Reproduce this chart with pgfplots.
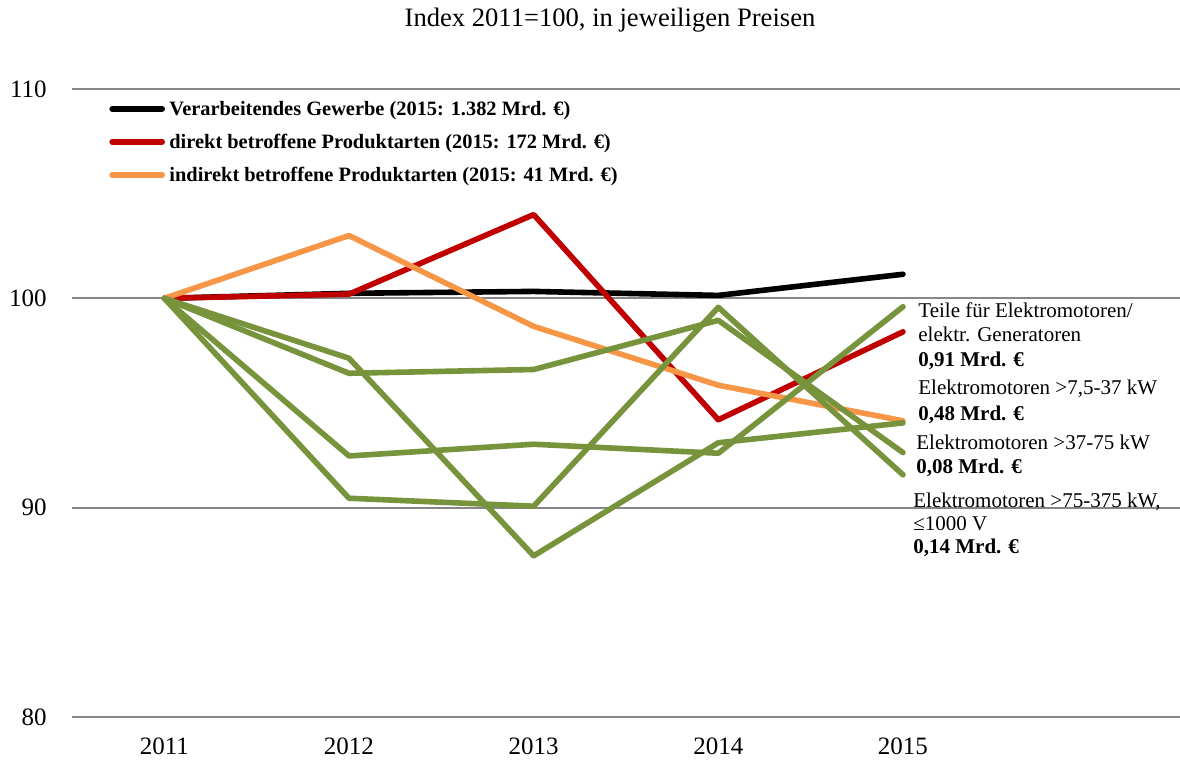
\documentclass[border=0pt]{standalone}
\usepackage{pgfplots}
\pgfplotsset{compat=1.18}
\usepackage{fontspec}
\setmainfont{Liberation Serif}
\definecolor{cblack}{HTML}{000000}
\definecolor{cred}{HTML}{C00000}
\definecolor{corange}{HTML}{F79646}
\definecolor{cgreen}{HTML}{77933C}
\definecolor{cgrid}{HTML}{868686}
\begin{document}
\begin{tikzpicture}
\useasboundingbox (0,0) rectangle (590pt,381pt);
\begin{axis}[
  at={(36pt,22.5pt)}, anchor=south west,
  width=554pt, height=314pt, scale only axis,
  xmin=2010.5, xmax=2016.5, ymin=80, ymax=110,
  xtick={2011,2012,2013,2014,2015},
  xticklabels={2011,2012,2013,2014,2015},
  ytick={80,90,100,110},
  yticklabels={80,90,100,110},
  axis line style={draw=none}, major tick length=0pt,
  ymajorgrids, grid style={cgrid, line width=1pt},
  /pgf/number format/assume math mode=true,
  xticklabel style={font=\fontsize{12.5}{14}\selectfont, inner sep=0pt, yshift=-10pt},
  yticklabel style={font=\fontsize{12.5}{14}\selectfont, inner sep=0pt, xshift=-12.5pt},
  clip=false,
  every axis plot/.append style={line width=2.8pt, line join=round, line cap=round},
  legend image code/.code={\draw[#1, line width=2.8pt, line cap=round] (0pt,0.8pt) -- (25pt,0.8pt);},
  legend cell align=left,
  legend style={at={(axis description cs:0,1)}, anchor=north west, xshift=18.5pt, yshift=-5.5pt,
    draw=none, fill=none, inner sep=0pt, row sep=6.5pt, column sep=2.2pt,
    font=\fontsize{10.2}{12}\selectfont\bfseries,
    nodes={inner sep=0pt, text height=7.5pt, text depth=2.5pt}},
]
\addplot[cblack] coordinates {(2011,100) (2012,100.24) (2013,100.33) (2014,100.14) (2015,101.15)};
\addlegendentry{Verarbeitendes Gewerbe (2015: 1.382 Mrd. €)}
\addplot[cred] coordinates {(2011,100) (2012,100.2) (2013,104.0) (2014,94.2) (2015,98.4)};
\addlegendentry{direkt betroffene Produktarten (2015: 172 Mrd. €)}
\addplot[corange] coordinates {(2011,100) (2012,103.0) (2013,98.66) (2014,95.85) (2015,94.15)};
\addlegendentry{indirekt betroffene Produktarten (2015: 41 Mrd. €)}
\addplot[cgreen, forget plot] coordinates {(2011,100) (2012,97.14) (2013,87.7) (2014,93.1) (2015,94.05)};
\addplot[cgreen, forget plot] coordinates {(2011,100) (2012,92.47) (2013,93.03) (2014,92.6) (2015,99.6)};
\addplot[cgreen, forget plot] coordinates {(2011,100) (2012,96.42) (2013,96.6) (2014,98.95) (2015,92.63)};
\addplot[cgreen, forget plot] coordinates {(2011,100) (2012,90.45) (2013,90.07) (2014,99.57) (2015,91.57)};
\end{axis}
\node[anchor=base, font=\fontsize{13.3}{16}\selectfont, inner sep=0pt] at (305pt,367.5pt) {Index 2011=100, in jeweiligen Preisen};
\begin{scope}[every node/.style={anchor=base west, inner sep=0pt, font=\fontsize{10.5}{12}\selectfont}]
\node at (459pt,222pt) {Teile für Elektromotoren/};
\node at (459pt,210pt) {elektr. Generatoren};
\node[font=\fontsize{10.5}{12}\selectfont\bfseries] at (459pt,197.5pt) {0,91 Mrd. €};
\node at (459pt,183.5pt) {Elektromotoren >7,5-37 kW};
\node[font=\fontsize{10.5}{12}\selectfont\bfseries] at (459pt,171pt) {0,48 Mrd. €};
\node at (458pt,156pt) {Elektromotoren >37-75 kW};
\node[font=\fontsize{10.5}{12}\selectfont\bfseries] at (458pt,144pt) {0,08 Mrd. €};
\node at (456.5pt,127.5pt) {Elektromotoren >75-375 kW,};
\node at (456.5pt,116pt) {≤1000 V};
\node[font=\fontsize{10.5}{12}\selectfont\bfseries] at (456.5pt,104pt) {0,14 Mrd. €};
\end{scope}
\end{tikzpicture}
\end{document}
